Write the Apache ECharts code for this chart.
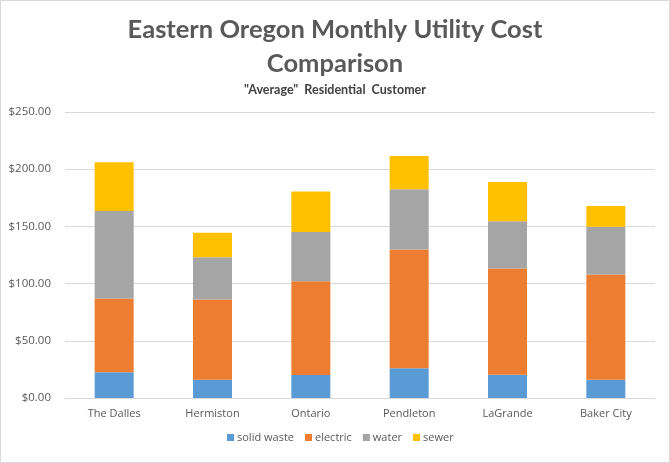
<!DOCTYPE html>
<html>
<head>
<meta charset="utf-8">
<title>Eastern Oregon Monthly Utility Cost Comparison</title>
<script src="https://cdn.jsdelivr.net/npm/echarts@6/dist/echarts.min.js"></script>
<style>
  html, body { margin: 0; padding: 0; background: #fff; }
  #chart { width: 670px; height: 463px; }
</style>
</head>
<body>
<div id="chart"></div>
<script>
"use strict";

// data
var cities = ["The Dalles", "Hermiston", "Ontario", "Pendleton", "LaGrande", "Baker City"];
var solidWaste = [22.4, 16.0, 20.1, 25.9, 20.4, 16.0];
var electric = [64.6, 70.1, 82.0, 104.0, 92.8, 92.0];
var water = [76.4, 37.0, 42.9, 52.5, 41.2, 41.7];
var sewer = [42.6, 21.4, 35.6, 29.2, 34.4, 18.1];
var yTicks = [0, 50, 100, 150, 200, 250];

var colors = ["#5B9BD5", "#ED7D31", "#A5A5A5", "#FFC000"];
var names = ["solid waste", "electric", "water", "sewer"];
var values = [solidWaste, electric, water, sewer];

var chart = echarts.init(document.getElementById("chart"));

var series = names.map(function (n, i) {
	return {
		name: n,
		type: "bar",
		stack: "total",
		barWidth: 39,
		itemStyle: { color: colors[i] },
		data: values[i]
	};
});

var option = {
	animation: false,
	textStyle: { fontFamily: "Open Sans" },
	title: [
		{
			text: "Eastern Oregon Monthly Utility Cost\nComparison",
			left: "center",
			top: 8,
			textStyle: {
				fontFamily: "Lato",
				fontSize: 25.5,
				fontWeight: "bold",
				color: "#595959",
				lineHeight: 34
			}
		},
		{
			text: "\"Average\"  Residential  Customer",
			left: "center",
			top: 78,
			textStyle: {
				fontFamily: "Lato",
				fontSize: 12.5,
				fontWeight: "bold",
				color: "#404040"
			}
		}
	],
	legend: {
		data: names,
		bottom: 15,
		left: 222,
		icon: "rect",
		itemWidth: 7,
		itemHeight: 7,
		itemGap: 11,
		textStyle: { color: "#595959", fontSize: 11, padding: [0, 0, 0, -2] }
	},
	grid: { left: 65, right: 15, top: 112, bottom: 65 },
	xAxis: {
		type: "category",
		data: cities,
		axisLine: { lineStyle: { color: "#d9d9d9" } },
		axisTick: { show: false },
		axisLabel: { color: "#595959", fontSize: 11, margin: 10 }
	},
	yAxis: {
		type: "value",
		min: yTicks[0],
		max: yTicks[yTicks.length - 1],
		interval: 50,
		axisLine: { show: false },
		axisTick: { show: false },
		splitLine: { lineStyle: { color: "#d9d9d9" } },
		axisLabel: {
			color: "#595959",
			fontSize: 11.5,
			margin: 14,
			formatter: function (v) { return "$" + v.toFixed(2); }
		}
	},
	graphic: [{
		type: "rect",
		shape: { x: 0.5, y: 0.5, width: 669, height: 462 },
		style: { fill: null, stroke: "#d9d9d9", lineWidth: 1 },
		silent: true
	}],
	series: series
};

chart.setOption(option);
</script>
</body>
</html>
